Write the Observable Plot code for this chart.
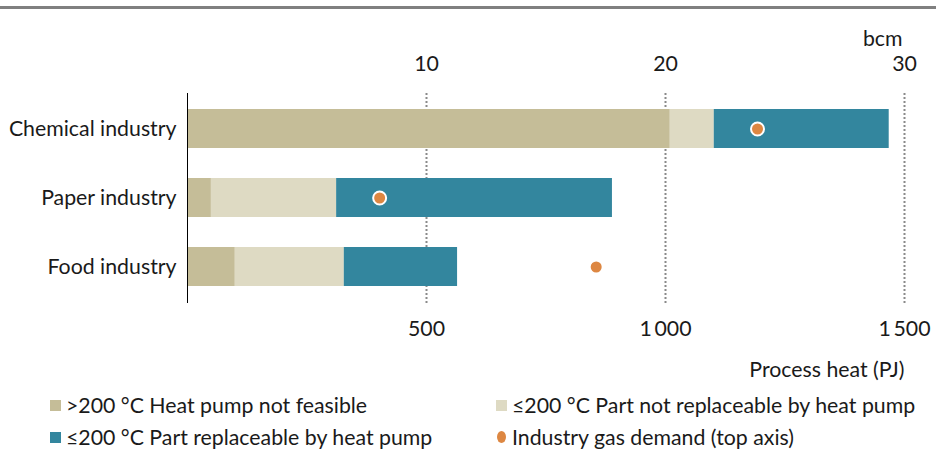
<!DOCTYPE html>
<html><head><meta charset="utf-8">
<script src="https://cdn.jsdelivr.net/npm/d3@7"></script>
<script src="https://cdn.jsdelivr.net/npm/@observablehq/plot@0.6"></script>
<style>
body{margin:0;background:#fff;font-family:Lato, "Open Sans", sans-serif;color:#1a1a1a;}
#wrap{position:relative;width:936px;height:450px;overflow:hidden;}
#line{position:absolute;left:0;top:6px;width:936px;height:3px;background:#808080;}
#chart{position:absolute;left:0;top:10px;}
.leg{position:absolute;font-size:21.3px;line-height:24px;white-space:nowrap;}
.sw{position:absolute;top:7px;width:11px;height:11px;}
.ci{position:absolute;top:6px;width:9px;height:12px;border-radius:50%;}
</style></head>
<body><div id="wrap"><div id="line"></div><div id="chart"></div></div>
<script>
const categories = ["Chemical industry", "Paper industry", "Food industry"];
const seriesNames = [">200 °C Heat pump not feasible", "≤200 °C Part not replaceable by heat pump", "≤200 °C Part replaceable by heat pump"];
const notFeasible = [1010, 50, 100];        // PJ
const notReplaceable = [92, 262, 228];      // PJ
const replaceable = [366, 577, 237];        // PJ
const gasDemandBcm = [23.85, 8.04, 17.1];   // bcm (top axis)
const gasName = "Industry gas demand (top axis)";
const bottomTicks = [500, 1000, 1500];      // PJ
const topTicks = [10, 20, 30];              // bcm
const pjPerBcm = 50;                        // top axis: 10 bcm = 500 PJ
const colors = ["#c5bd98", "#dedac3", "#33869e"];
const gasColor = "#dd8742";

const seriesValues = [notFeasible, notReplaceable, replaceable];
const rows = [];
categories.forEach((c, i) => seriesValues.forEach((vals, s) => rows.push({category: c, series: seriesNames[s], value: vals[i]})));
const gas = categories.map((c, i) => ({category: c, pj: gasDemandBcm[i] * pjPerBcm}));
const fmt = d => d3.format(",")(d).replace(",", "\u2009");

const chart = Plot.plot({
  width: 936, height: 375,
  marginTop: 83, marginBottom: 82, marginLeft: 187, marginRight: 32,
  style: {fontSize: "21.3px", fontFamily: "Lato, 'Open Sans', sans-serif", color: "#1a1a1a", background: "transparent"},
  x: {domain: [0, 1500], axis: null},
  y: {domain: categories, paddingInner: 0.43, paddingOuter: 0.23, axis: null},
  color: {domain: seriesNames, range: colors},
  marks: [
    Plot.ruleX(bottomTicks, {stroke: "#8a8a8a", strokeWidth: 2, strokeDasharray: "2,2"}),
    Plot.barX(rows, Plot.stackX({x: "value", y: "category", fill: "series", order: null})),
    Plot.ruleX([0], {stroke: "#000", strokeWidth: 1}),
    Plot.dot(gas, {x: "pj", y: "category", r: 6.5, fill: gasColor, stroke: "#fff", strokeWidth: 2}),
    Plot.axisY({tickSize: 0, tickPadding: 11, fill: "#1a1a1a", label: null}),
    Plot.axisX({anchor: "bottom", ticks: bottomTicks, tickFormat: fmt, tickSize: 0, tickPadding: 17, label: null}),
    Plot.axisX({anchor: "top", ticks: topTicks.map(t => t * pjPerBcm), tickFormat: d => d / pjPerBcm, tickSize: 0, tickPadding: 23, label: null}),
    Plot.text(["bcm"], {frameAnchor: "top-right", dy: -63, dx: -2}),
    Plot.text(["Process heat (PJ)"], {frameAnchor: "bottom-right", dy: 73})
  ]
});
document.getElementById("chart").appendChild(chart);

// legend
const wrap = document.getElementById("wrap");
const legItems = [
  {label: seriesNames[0], color: colors[0], x: 50, y: 393, shape: "sq"},
  {label: seriesNames[1], color: colors[1], x: 496, y: 393, shape: "sq"},
  {label: seriesNames[2], color: colors[2], x: 50, y: 425, shape: "sq"},
  {label: gasName, color: gasColor, x: 496, y: 425, shape: "ci"}
];
legItems.forEach(it => {
  const d = document.createElement("div");
  d.className = "leg";
  d.style.left = it.x + "px";
  d.style.top = it.y + "px";
  d.style.paddingLeft = "16px";
  const s = document.createElement("span");
  s.className = it.shape === "sq" ? "sw" : "ci";
  s.style.left = it.shape === "sq" ? "0px" : "1px";
  s.style.background = it.color;
  d.appendChild(s);
  d.appendChild(document.createTextNode(it.label));
  wrap.appendChild(d);
});
</script></body></html>
